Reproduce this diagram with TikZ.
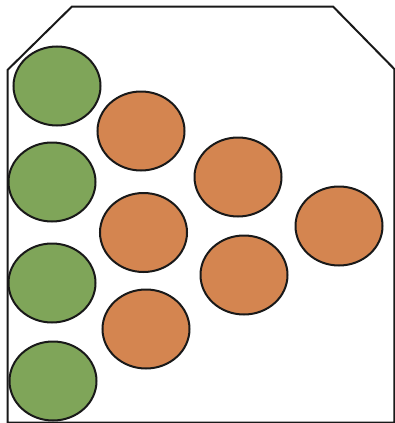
\documentclass[tikz,border=0pt]{standalone}
\usepackage{xcolor}
\usetikzlibrary{shapes.geometric}

\definecolor{ballgreen}{RGB}{127,165,89}
\definecolor{ballorange}{RGB}{212,133,80}

\begin{document}
\begin{tikzpicture}[
            x=1pt, y=-1pt,
            ball/.style={
                ellipse,
                draw=black!90,
                line width=2pt,
                inner sep=0pt,
                minimum width=87pt,
                minimum height=79pt
            },
            greenball/.style={ball, fill=ballgreen},
            orangeball/.style={ball, fill=ballorange},
            wall/.style={
                draw=black!90,
                line width=2pt,
                line join=miter
            }
        ]
            \useasboundingbox (0,0) rectangle (395,423);

            % --- RECIPIENTE ---
            \path [wall] (7.5,422.5) -- (7.5,70) -- (72,6.5) -- (333,6.5) -- (394.3,69) -- (394.3,422.5) -- cycle;

            % --- BOLAS VERDES ---
            \node [greenball] (g1) at (57,86) {};
            \node [greenball] (g2) at (52,182) {};
            \node [greenball] (g3) at (52,283) {};
            \node [greenball] (g4) at (53,381) {};

            % --- BOLAS NARANJAS ---
            \node [orangeball] (o1) at (141,131) {};
            \node [orangeball] (o2) at (143.5,232.5) {};
            \node [orangeball] (o3) at (146,329) {};
            \node [orangeball] (o4) at (238,177) {};
            \node [orangeball] (o5) at (244,275) {};
            \node [orangeball] (o6) at (339,226) {};
        \end{tikzpicture}
\end{document}
